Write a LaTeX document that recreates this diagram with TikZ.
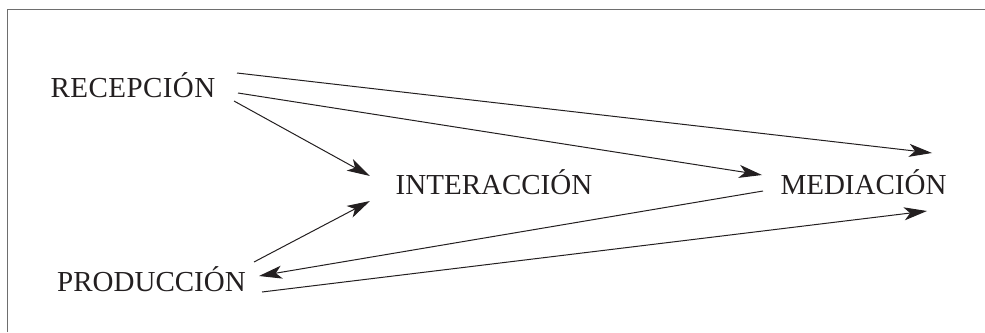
\documentclass[tikz,border=0pt]{standalone}
\usepackage{fontspec}
\setmainfont{Liberation Serif}
\usetikzlibrary{arrows.meta}
\definecolor{ink}{RGB}{35,31,32}
\definecolor{rule}{RGB}{110,110,110}
\tikzset{
  term/.style={anchor=base, inner sep=0pt, text=ink,
    font=\fontsize{29}{34}\selectfont},
  flow/.style={draw=ink, line width=1pt,
    -{Stealth[length=23pt, width=13pt, inset=6pt]}},
  frameline/.style={draw=rule, line width=1.8pt}
}
\begin{document}
\begin{tikzpicture}[x=1pt, y=-1pt]
  \useasboundingbox (0,0) rectangle (985,332);
  % open frame: left and top edges only
  \draw[frameline] (7.5,332) -- (7.5,9.5) -- (985,9.5);

  % the four terms
  \node[term] (rec)   at (133,97)    {\addfontfeature{LetterSpace=1.5}RECEPCIÓN};
  \node[term] (prod)  at (151.5,291) {PRODUCCIÓN};
  \node[term] (inter) at (494,194)   {INTERACCIÓN};
  \node[term] (med)   at (863.5,194) {MEDIACIÓN};

  % connectors
  \draw[flow] ([shift={(104,-24)}]rec.base)   -- ([shift={(68.5,-41)}]med.base);
  \draw[flow] ([shift={(105,-4)}]rec.base)    -- ([shift={(-101.5,-19)}]med.base);
  \draw[flow] ([shift={(101,4)}]rec.base)     -- ([shift={(-124,-18)}]inter.base);
  \draw[flow] ([shift={(102.5,-29)}]prod.base) -- ([shift={(-124,7)}]inter.base);
  \draw[flow] ([shift={(-100.5,-3)}]med.base) -- ([shift={(107.5,-15)}]prod.base);
  \draw[flow] ([shift={(110.5,1)}]prod.base)  -- ([shift={(63.5,17)}]med.base);
\end{tikzpicture}
\end{document}
